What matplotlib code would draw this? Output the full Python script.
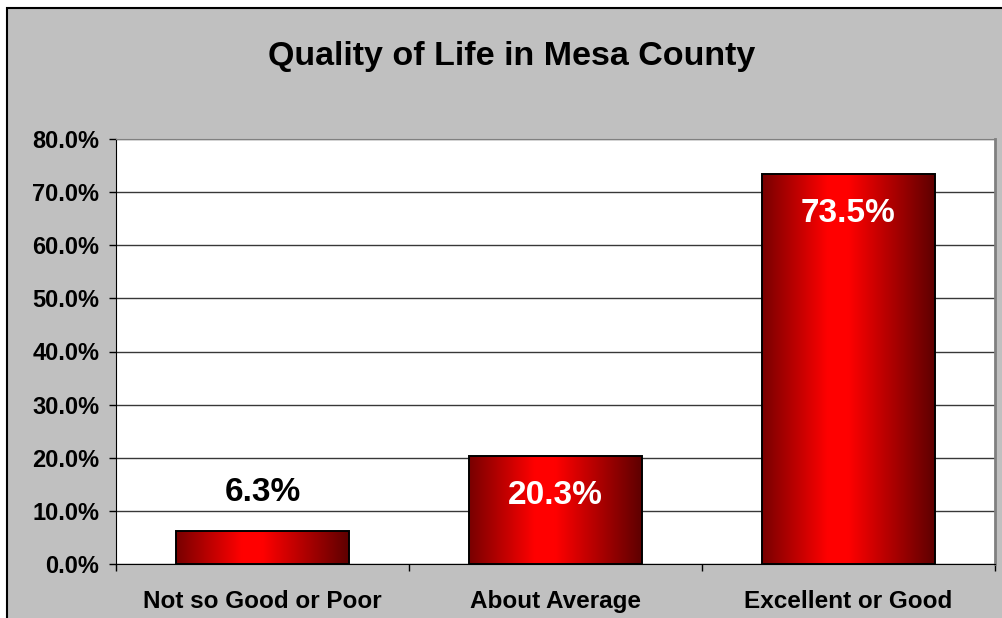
import numpy as np
import matplotlib.pyplot as plt
from matplotlib.patches import Rectangle
from matplotlib.colors import LinearSegmentedColormap

# data
categories = ['Not so Good or Poor', 'About Average', 'Excellent or Good']
values = [6.3, 20.3, 73.5]
label_inside = [False, True, True]
yticks = [0, 10, 20, 30, 40, 50, 60, 70, 80]

plt.rcParams['font.family'] = ['Liberation Sans', 'DejaVu Sans']
plt.rcParams['font.weight'] = 'bold'

fig = plt.figure(figsize=(10.03, 6.18), dpi=100)
fig.patch.set_facecolor('white')

# gray chart area with black border (cropped on right/bottom)
fig.patches.append(Rectangle((7 / 1003, -0.05), 1.1, 1.05 - 8 / 618,
                             transform=fig.transFigure, facecolor='#C0C0C0',
                             edgecolor='black', linewidth=1.5, zorder=-1))

ax = fig.add_axes([116 / 1003, 54 / 618, (995 - 116) / 1003, (564 - 139) / 618])
ax.set_facecolor('white')

x = np.arange(len(categories))
bars = ax.bar(x, values, width=0.59, color='none', edgecolor='black',
              linewidth=1.4, zorder=3)

# horizontal gradient inside each bar
cmap = LinearSegmentedColormap.from_list(
    'barred', [(0, '#780000'), (0.38, '#FF0000'), (0.5, '#FF0000'), (1, '#5E0000')])
grad = np.linspace(0, 1, 256).reshape(1, -1)
for b in bars:
    x0, w, h = b.get_x(), b.get_width(), b.get_height()
    im = ax.imshow(grad, cmap=cmap, aspect='auto', extent=(x0, x0 + w, 0, h),
                   zorder=2, interpolation='bicubic')
    im.set_clip_path(b)

ax.set_xlim(-0.5, len(categories) - 0.5)
ax.set_ylim(0, 80)

# value labels
for xi, v, inside in zip(x, values, label_inside):
    if inside:
        ax.annotate(f'{v:.1f}%', (xi, v), xytext=(0, -34.7), textcoords='offset points',
                    ha='center', va='baseline', fontsize=24, color='white',
                    fontweight='bold', zorder=4)
    else:
        ax.annotate(f'{v:.1f}%', (xi, v), xytext=(0, 21.2), textcoords='offset points',
                    ha='center', va='baseline', fontsize=24, color='black',
                    fontweight='bold', zorder=4)

ax.set_yticks(yticks)
ax.set_yticklabels([f'{t:.1f}%' for t in yticks], fontsize=17, fontweight='bold')
ax.tick_params(axis='y', direction='out', length=5, width=1, pad=7)
ax.yaxis.grid(True, color='#383838', linewidth=1)
ax.set_axisbelow(True)

ax.set_xticks(x)
ax.set_xticklabels(categories, fontsize=17.5, fontweight='bold')
ax.set_xticks(np.arange(len(categories) + 1) - 0.5, minor=True)
ax.tick_params(axis='x', which='major', length=0, pad=18.5)
ax.tick_params(axis='x', which='minor', direction='out', length=5, width=1)

ax.spines['left'].set_color('black')
ax.spines['bottom'].set_color('black')
ax.spines['top'].set_color('#808080')
ax.spines['right'].set_color('#808080')
ax.spines['right'].set_linewidth(2)

fig.text(512 / 1003, 1 - 64.5 / 618, 'Quality of Life in Mesa County',
         ha='center', va='baseline', fontsize=24.5, fontweight='bold')

fig.savefig('out.png', dpi=100)
